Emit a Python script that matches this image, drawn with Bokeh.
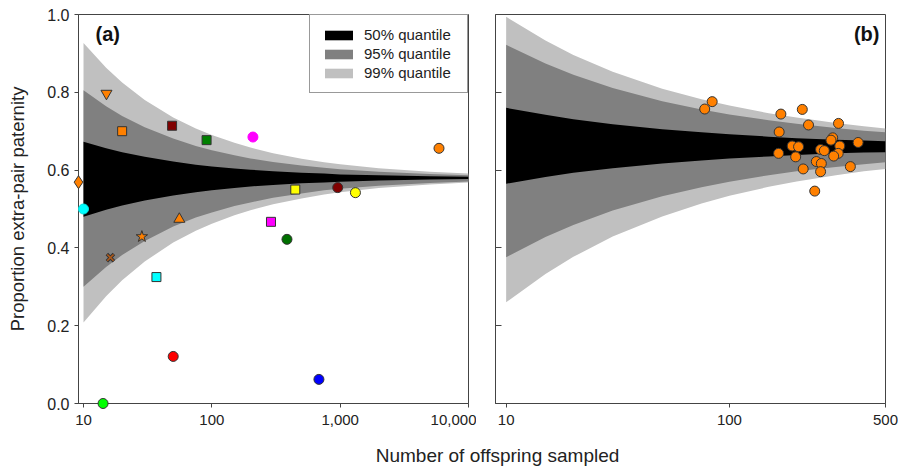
from bokeh.plotting import figure
from bokeh.models import (FixedTicker, Legend, LegendItem, Label,
                          NumeralTickFormatter, PrintfTickFormatter)
from bokeh.layouts import row, column
from bokeh.embed import file_html
from bokeh.resources import INLINE

FONT = "Liberation Sans"

# ---------------- data: panel (a) ----------------
L_N = [10, 15, 20, 30, 50, 75, 100, 150, 200, 300, 500, 750, 1000, 2000, 5000, 10000]
L_Q50_HI = [0.673, 0.656, 0.646, 0.634, 0.622, 0.614, 0.609, 0.604, 0.601, 0.597, 0.593, 0.591, 0.589, 0.587, 0.584, 0.583]
L_Q50_LO = [0.480, 0.498, 0.509, 0.522, 0.535, 0.543, 0.548, 0.554, 0.558, 0.562, 0.566, 0.568, 0.570, 0.573, 0.576, 0.577]
L_Q95_HI = [0.805, 0.764, 0.739, 0.710, 0.681, 0.662, 0.651, 0.638, 0.630, 0.621, 0.612, 0.606, 0.602, 0.596, 0.590, 0.587]
L_Q95_LO = [0.300, 0.351, 0.382, 0.418, 0.455, 0.478, 0.491, 0.508, 0.517, 0.529, 0.540, 0.548, 0.552, 0.560, 0.567, 0.571]
L_Q99_HI = [0.927, 0.863, 0.825, 0.780, 0.735, 0.707, 0.690, 0.670, 0.658, 0.643, 0.629, 0.620, 0.615, 0.605, 0.596, 0.591]
L_Q99_LO = [0.208, 0.276, 0.317, 0.365, 0.414, 0.444, 0.462, 0.484, 0.497, 0.512, 0.527, 0.537, 0.543, 0.554, 0.563, 0.568]

SQ_N = [20, 49, 91, 37, 289, 447]
SQ_P = [0.700, 0.714, 0.677, 0.325, 0.467, 0.550]
SQ_COL = ["#ff8000", "#800000", "#008000", "#00ffff", "#ff00ff", "#ffff00"]

CI_N = [10, 209, 5890, 957, 1315, 385, 50, 14.2, 683]
CI_P = [0.500, 0.685, 0.656, 0.555, 0.542, 0.422, 0.121, 0.0, 0.062]
CI_COL = ["#00ffff", "#ff00ff", "#ff8000", "#800000", "#ffff00", "#007000", "#ff0000", "#00ff00", "#0000ff"]
CI_EDGE = ["#00e0e0", "#ff00ff", "#333333", "#333333", "#333333", "#333333", "#333333", "#333333", "#333333"]

TU_N, TU_P = [55.8], [0.474]
TD_N, TD_P = [15.1], [0.797]
DI_N, DI_P = [9.14], [0.569]
ST_N, ST_P = [28.5], [0.429]
XX_N, XX_P = [16.2], [0.375]

L_XTICKS = [10, 100, 1000, 10000]
YTICKS = [0.0, 0.2, 0.4, 0.6, 0.8, 1.0]

# ---------------- data: panel (b) ----------------
R_N = [10, 15, 20, 30, 50, 75, 100, 150, 200, 300, 400, 500]
R_Q50_HI = [0.760, 0.742, 0.731, 0.718, 0.705, 0.697, 0.692, 0.686, 0.682, 0.678, 0.676, 0.674]
R_Q50_LO = [0.565, 0.582, 0.593, 0.605, 0.617, 0.625, 0.630, 0.635, 0.639, 0.643, 0.645, 0.646]
R_Q95_HI = [0.922, 0.874, 0.845, 0.811, 0.777, 0.756, 0.743, 0.728, 0.719, 0.708, 0.701, 0.697]
R_Q95_LO = [0.376, 0.428, 0.459, 0.496, 0.533, 0.556, 0.570, 0.587, 0.597, 0.608, 0.615, 0.620]
R_Q99_HI = [0.994, 0.933, 0.896, 0.853, 0.809, 0.782, 0.766, 0.746, 0.735, 0.721, 0.713, 0.707]
R_Q99_LO = [0.260, 0.333, 0.377, 0.429, 0.481, 0.514, 0.534, 0.557, 0.571, 0.587, 0.597, 0.603]

R_PTS_N = [83.7, 77.5, 170, 212, 226, 308, 167, 290, 285, 377, 191, 204, 312, 256, 266,
           166, 307, 293, 198, 245, 258, 214, 256, 348, 241]
R_PTS_P = [0.776, 0.757, 0.744, 0.756, 0.716, 0.720, 0.698, 0.683, 0.677, 0.671, 0.662, 0.660, 0.662, 0.653, 0.650,
           0.643, 0.643, 0.636, 0.634, 0.622, 0.617, 0.603, 0.596, 0.609, 0.546]
R_XTICKS = [10, 100, 500]
R_YTICKS = [0.2, 0.4, 0.6, 0.8]

BAND_NAMES = ["50% quantile", "95% quantile", "99% quantile"]
BAND_COLORS = ["#000000", "#808080", "#c0c0c0"]
AXC = "#444444"
TXT = "#222222"
EDGE = "#333333"

# ---------------- panel (a) ----------------
L_XMIN = 9.14
p1 = figure(x_axis_type="log", x_range=(L_XMIN, 10000), y_range=(0, 1.0),
            frame_width=390, frame_height=389,
            min_border_left=78, min_border_right=8, min_border_top=14, min_border_bottom=36,
            output_backend="svg", toolbar_location=None, outline_line_color=AXC,
            background_fill_color="white", border_fill_color="white")
p1.grid.visible = False

b99 = p1.varea(x=L_N, y1=L_Q99_LO, y2=L_Q99_HI, fill_color=BAND_COLORS[2])
b95 = p1.varea(x=L_N, y1=L_Q95_LO, y2=L_Q95_HI, fill_color=BAND_COLORS[1])
b50 = p1.varea(x=L_N, y1=L_Q50_LO, y2=L_Q50_HI, fill_color=BAND_COLORS[0])

marks = [
    p1.scatter(x=SQ_N, y=SQ_P, marker="square", size=9, fill_color=SQ_COL, line_color=EDGE),
    p1.scatter(x=CI_N, y=CI_P, marker="circle", size=10, fill_color=CI_COL, line_color=CI_EDGE),
    p1.scatter(x=TU_N, y=TU_P, marker="triangle", size=11, fill_color="#ff8000", line_color=EDGE),
    p1.scatter(x=TD_N, y=TD_P, marker="inverted_triangle", size=11, fill_color="#ff8000", line_color=EDGE),
    p1.scatter(x=DI_N, y=DI_P, marker="diamond", size=13, fill_color="#ff8000", line_color=EDGE),
    p1.scatter(x=ST_N, y=ST_P, marker="star", size=12, fill_color="#ff8000", line_color=EDGE),
    p1.scatter(x=XX_N, y=XX_P, marker="x", size=10, line_color=EDGE, line_width=3.5),
    p1.scatter(x=XX_N, y=XX_P, marker="x", size=9, line_color="#b05a1a", line_width=1.6),
]
for m in marks:
    m.level = "overlay"

ax = p1.xaxis[0]
ax.ticker = FixedTicker(ticks=L_XTICKS)
ax.formatter = NumeralTickFormatter(format="0,0")
ax.minor_tick_line_color = None
ax.major_tick_out = 4
ax.major_tick_in = 0
ax.axis_line_color = AXC
ax.major_tick_line_color = AXC
ax.major_label_text_font = FONT
ax.major_label_text_font_size = "15px"
ax.major_label_text_color = TXT
ax.major_label_standoff = 7

ay = p1.yaxis[0]
ay.ticker = FixedTicker(ticks=YTICKS)
ay.formatter = PrintfTickFormatter(format="%.1f")
ay.minor_tick_line_color = None
ay.major_tick_out = 4
ay.major_tick_in = 0
ay.axis_line_color = AXC
ay.major_tick_line_color = AXC
ay.major_label_text_font = FONT
ay.major_label_text_font_size = "16px"
ay.major_label_text_color = TXT
ay.major_label_standoff = 5
ay.axis_label = "Proportion extra-pair paternity"
ay.axis_label_text_font = FONT
ay.axis_label_text_font_size = "18.5px"
ay.axis_label_text_font_style = "normal"
ay.axis_label_text_color = TXT
ay.axis_label_standoff = 16

legend = Legend(items=[LegendItem(label=BAND_NAMES[0], renderers=[b50]),
                       LegendItem(label=BAND_NAMES[1], renderers=[b95]),
                       LegendItem(label=BAND_NAMES[2], renderers=[b99])],
                location="top_right", margin=0, padding=11, spacing=2,
                glyph_width=35, glyph_height=12, label_standoff=8, label_width=92,
                label_text_font=FONT, label_text_font_size="15px", label_text_color=TXT,
                border_line_color=EDGE, border_line_width=1, background_fill_alpha=1.0)
p1.add_layout(legend)

p1.add_layout(Label(x=12.4, y=0.951, text="(a)", text_font=FONT, text_font_style="bold",
                    text_font_size="20px", text_baseline="middle", text_align="left", text_color="#111111"))

# ---------------- panel (b) ----------------
p2 = figure(x_axis_type="log", x_range=(8.96, 500), y_range=(0, 1),
            frame_width=390, frame_height=389,
            min_border_left=19, min_border_right=13, min_border_top=14, min_border_bottom=36,
            output_backend="svg", toolbar_location=None, outline_line_color=AXC,
            background_fill_color="white", border_fill_color="white")
p2.grid.visible = False

p2.varea(x=R_N, y1=R_Q99_LO, y2=R_Q99_HI, fill_color=BAND_COLORS[2])
p2.varea(x=R_N, y1=R_Q95_LO, y2=R_Q95_HI, fill_color=BAND_COLORS[1])
p2.varea(x=R_N, y1=R_Q50_LO, y2=R_Q50_HI, fill_color=BAND_COLORS[0])
pts = p2.scatter(x=R_PTS_N, y=R_PTS_P, marker="circle", size=10, fill_color="#ff8000", line_color=EDGE)
pts.level = "overlay"

bx = p2.xaxis[0]
bx.ticker = FixedTicker(ticks=R_XTICKS)
bx.formatter = NumeralTickFormatter(format="0,0")
bx.minor_tick_line_color = None
bx.major_tick_out = 4
bx.major_tick_in = 0
bx.axis_line_color = AXC
bx.major_tick_line_color = AXC
bx.major_label_text_font = FONT
bx.major_label_text_font_size = "15px"
bx.major_label_text_color = TXT
bx.major_label_standoff = 7

by = p2.yaxis[0]
by.ticker = FixedTicker(ticks=R_YTICKS)
by.minor_tick_line_color = None
by.major_tick_out = 0
by.major_tick_in = 6
by.axis_line_color = AXC
by.major_tick_line_color = AXC
by.major_label_overrides = {t: "" for t in R_YTICKS}
by.major_label_standoff = 0

p2.add_layout(Label(x=470, y=0.951, text="(b)", text_font=FONT, text_font_style="bold",
                    text_font_size="20px", text_baseline="middle", text_align="right", text_color="#111111"))

# ---------------- shared x label ----------------
p3 = figure(width=898, height=29, x_range=(0, 898), y_range=(0, 29), min_border=0,
            output_backend="svg", toolbar_location=None, outline_line_color=None,
            x_axis_location=None, y_axis_location=None,
            background_fill_color="white", border_fill_color="white")
p3.grid.visible = False
p3.add_layout(Label(x=497, y=13, text="Number of offspring sampled", text_font=FONT,
                    text_font_size="19px", text_align="center", text_baseline="middle", text_color=TXT))

layout = column(row(p1, p2), p3)
open("out.html", "w").write(file_html(layout, INLINE))
